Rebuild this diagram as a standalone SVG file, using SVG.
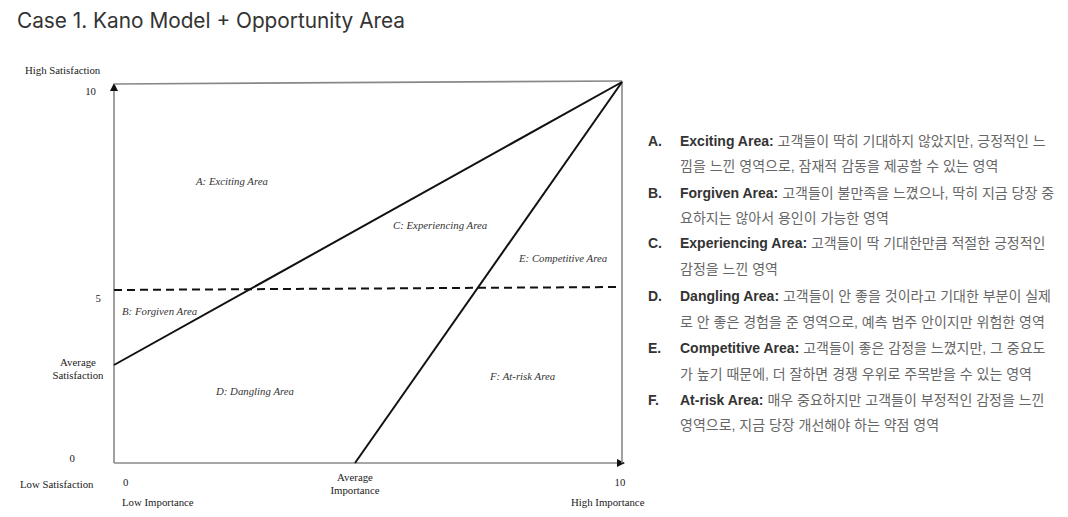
<svg xmlns="http://www.w3.org/2000/svg" width="1068" height="517" viewBox="0 0 1068 517">
<style>
.t{font-family:"Liberation Serif","Times New Roman",serif;font-size:10.8px;fill:#222}
.a{font-family:"Liberation Serif","Times New Roman",serif;font-size:10.8px;font-style:italic;fill:#333}
.k{font-family:"Liberation Sans","Noto Sans CJK KR",sans-serif;font-size:14px;fill:#666}
.kb{font-weight:bold;fill:#333}
.axis{stroke:#888;stroke-width:1.6;fill:none}
.ln{stroke:#111;stroke-width:2;fill:none}
</style>
<defs>
<marker id="arr" viewBox="0 0 8 8" refX="7" refY="4" markerWidth="8" markerHeight="8" markerUnits="userSpaceOnUse" orient="auto">
<path d="M0,0 L8,4 L0,8 z" fill="#111"/>
</marker>
</defs>
<rect width="1068" height="517" fill="#fff"/>
<text x="17" y="28" font-family="Inter,'Liberation Sans',sans-serif" font-size="20.8" fill="#333">Case 1. Kano Model + Opportunity Area</text>

<g id="axes">
<line class="axis" x1="114" y1="463" x2="114" y2="84" marker-end="url(#arr)"/>
<line class="axis" x1="114" y1="463" x2="624" y2="463" marker-end="url(#arr)"/>
<line class="axis" x1="114" y1="84" x2="622" y2="81"/>
<line class="axis" x1="622" y1="81" x2="622" y2="463"/>
</g>

<g id="connectors">
<line class="ln" x1="114" y1="365" x2="622" y2="82"/>
<line class="ln" x1="355" y1="463" x2="622" y2="82"/>
<line class="ln" x1="114" y1="290" x2="620" y2="287" stroke-dasharray="8,5"/>
</g>

<g id="axis-labels">
<text class="t" x="25" y="74">High Satisfaction</text>
<text class="t" x="96" y="95" text-anchor="end">10</text>
<text class="t" x="101" y="302" text-anchor="end">5</text>
<text class="t" x="78" y="366" text-anchor="middle">Average</text>
<text class="t" x="78" y="379" text-anchor="middle">Satisfaction</text>
<text class="t" x="75" y="462" text-anchor="end">0</text>
<text class="t" x="20" y="488">Low Satisfaction</text>
<text class="t" x="123" y="486">0</text>
<text class="t" x="355" y="481" text-anchor="middle">Average</text>
<text class="t" x="355" y="494" text-anchor="middle">Importance</text>
<text class="t" x="620" y="486" text-anchor="middle">10</text>
<text class="t" x="122" y="506">Low Importance</text>
<text class="t" x="571" y="506">High Importance</text>
</g>

<g id="area-a"><text class="a" x="196" y="185">A: Exciting Area</text></g>
<g id="area-b"><text class="a" x="122" y="315">B: Forgiven Area</text></g>
<g id="area-c"><text class="a" x="393" y="229">C: Experiencing Area</text></g>
<g id="area-d"><text class="a" x="216" y="395">D: Dangling Area</text></g>
<g id="area-e"><text class="a" x="519" y="262">E: Competitive Area</text></g>
<g id="area-f"><text class="a" x="490" y="380">F: At-risk Area</text></g>

<g id="legend">
<text class="k kb" x="648" y="146">A.</text>
<text class="k" x="680" y="146"><tspan class="kb">Exciting Area:</tspan> 고객들이 딱히 기대하지 않았지만, 긍정적인 느</text>
<text class="k" x="680" y="171">낌을 느낀 영역으로, 잠재적 감동을 제공할 수 있는 영역</text>
<text class="k kb" x="648" y="198">B.</text>
<text class="k" x="680" y="198"><tspan class="kb">Forgiven Area:</tspan> 고객들이 불만족을 느꼈으나, 딱히 지금 당장 중</text>
<text class="k" x="680" y="223">요하지는 않아서 용인이 가능한 영역</text>
<text class="k kb" x="648" y="248">C.</text>
<text class="k" x="680" y="248"><tspan class="kb">Experiencing Area:</tspan> 고객들이 딱 기대한만큼 적절한 긍정적인</text>
<text class="k" x="680" y="274">감정을 느낀 영역</text>
<text class="k kb" x="648" y="301">D.</text>
<text class="k" x="680" y="301"><tspan class="kb">Dangling Area:</tspan> 고객들이 안 좋을 것이라고 기대한 부분이 실제</text>
<text class="k" x="680" y="327">로 안 좋은 경험을 준 영역으로, 예측 범주 안이지만 위험한 영역</text>
<text class="k kb" x="648" y="353">E.</text>
<text class="k" x="680" y="353"><tspan class="kb">Competitive Area:</tspan> 고객들이 좋은 감정을 느꼈지만, 그 중요도</text>
<text class="k" x="680" y="379">가 높기 때문에, 더 잘하면 경쟁 우위로 주목받을 수 있는 영역</text>
<text class="k kb" x="648" y="405">F.</text>
<text class="k" x="680" y="405"><tspan class="kb">At-risk Area:</tspan> 매우 중요하지만 고객들이 부정적인 감정을 느낀</text>
<text class="k" x="680" y="430">영역으로, 지금 당장 개선해야 하는 약점 영역</text>
</g>
</svg>
